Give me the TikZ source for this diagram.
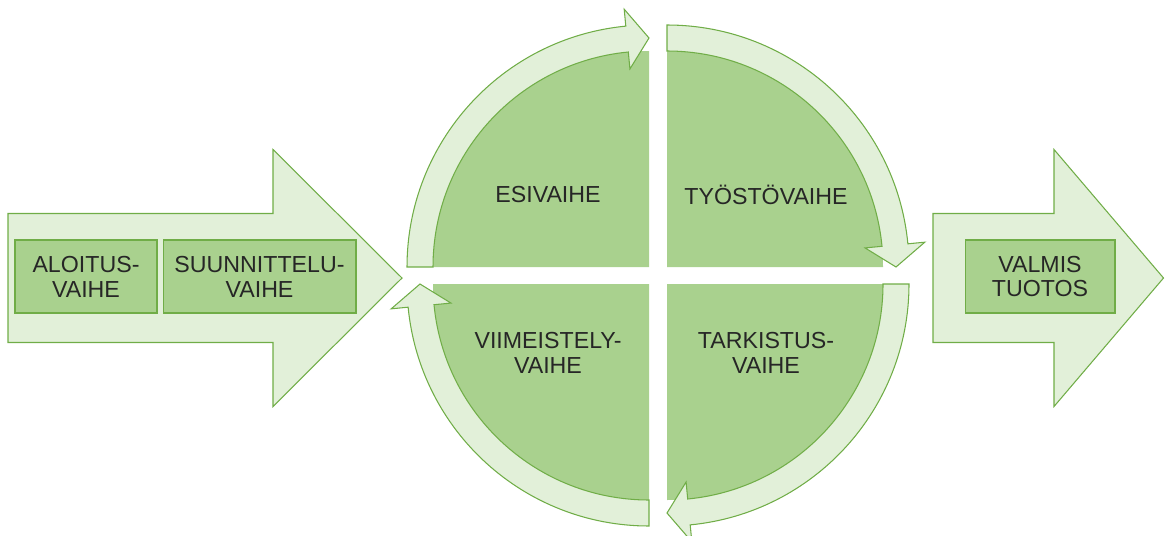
\documentclass[tikz,border=0pt]{standalone}
\usepackage{fontspec}
\setmainfont{Liberation Sans}
\usetikzlibrary{positioning}

\definecolor{ringgreen}{HTML}{E2F0D9}
\definecolor{piegreen}{HTML}{A9D18E}
\definecolor{edgegreen}{HTML}{70AD47}

% radii of the circle parts (px)
\newcommand*{\rin}{216}
\newcommand*{\rout}{242}
\newcommand*{\rmid}{229}
\newcommand*{\hin}{199}
\newcommand*{\hout}{259}
\newcommand*{\hang}{5.5}

\tikzset{
	bigarrow/.style={fill=ringgreen, draw=edgegreen, line width=0.6pt, line join=miter},
	phasebox/.style={fill=piegreen, draw=edgegreen, line width=0.6pt, text=black!85,
		align=center, minimum height=1.46cm, inner sep=0pt,
		font=\fontsize{13.2}{14.2}\selectfont},
	phaselabel/.style={text=black!85, align=center, inner sep=0pt,
		font=\fontsize{13.2}{14.2}\selectfont}
}

\begin{document}
\begin{tikzpicture}[x=0.02cm, y=0.02cm]

	\useasboundingbox (0,0) rectangle (1165,535);

	% input arrow
	\fill[bigarrow] (8,192.5) -- (8,321.5) -- (273,321.5) -- (273,385.5) -- (402,257)
		-- (273,128.5) -- (273,192.5) -- cycle;

	% output arrow
	\fill[bigarrow] (933,192.5) -- (933,321.5) -- (1054,321.5) -- (1054,385.5) -- (1163.5,257)
		-- (1054,128.5) -- (1054,192.5) -- cycle;

	\node[phasebox, minimum width=2.84cm] (aloitus) at (86,258.5) {ALOITUS-\\VAIHE};
	\node[phasebox, minimum width=3.86cm, right=0.1cm of aloitus] (suunnittelu) {SUUNNITTELU-\\VAIHE};
	\node[phasebox, minimum width=3.0cm] (valmis) at (1040,258.5) {VALMIS\\TUOTOS};

	% quarters
	\foreach \cx/\cy/\a in {649/268/180, 667/268/90, 667/251/0, 649/251/-90} {
		\fill[piegreen] (\cx,\cy) -- ++(\a:\rin) arc[start angle=\a, end angle=\a-90, radius=\rin] -- cycle;
	}

	% round arrows
	\foreach \cx/\cy/\a in {649/268/180, 667/268/90, 667/251/0, 649/251/-90} {
		\begin{scope}[shift={(\cx,\cy)}]
			\filldraw[bigarrow] (\a:\rin) -- (\a:\rout)
				arc[start angle=\a, end angle=\a-90+\hang, radius=\rout]
				-- (\a-90+\hang:\hout) -- (\a-90:\rmid) -- (\a-90+\hang:\hin)
				-- (\a-90+\hang:\rin)
				arc[start angle=\a-90+\hang, end angle=\a, radius=\rin] -- cycle;
		\end{scope}
	}

	\node[phaselabel] (esi) at (548,340) {ESIVAIHE};
	\node[phaselabel] (tyosto) at (766,340) {TYÖSTÖVAIHE};
	\node[phaselabel] (tarkistus) at (766,182) {TARKISTUS-\\VAIHE};
	\node[phaselabel] (viimeistely) at (548,182) {VIIMEISTELY-\\VAIHE};

\end{tikzpicture}
\end{document}
